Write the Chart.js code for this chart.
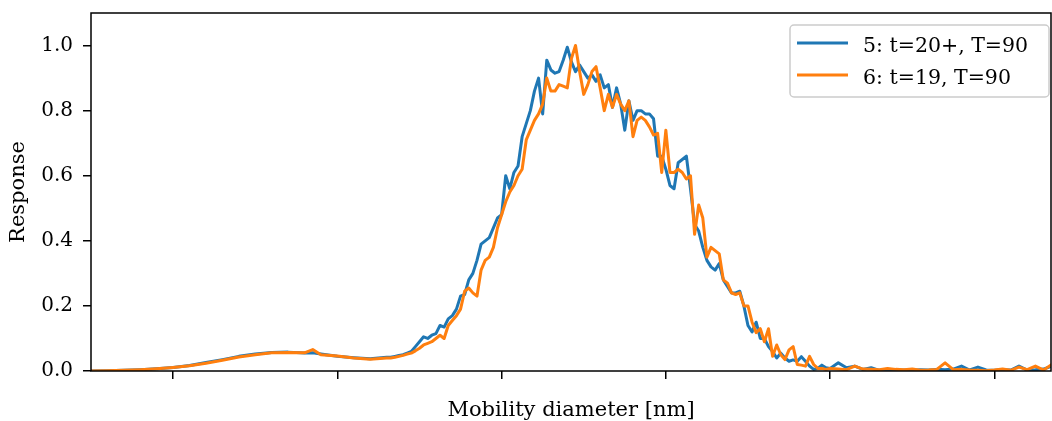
<!DOCTYPE html>
<html><head><meta charset="utf-8">
<script src="https://cdn.jsdelivr.net/npm/chart.js@4"></script>
<style>html,body{margin:0;padding:0;background:#fff;overflow:hidden}canvas{display:block}</style>
</head><body>
<canvas id="c" width="1052" height="421"></canvas>
<script>
// x positions (channel units along the mobility-diameter axis)
const xGrid = [0,4,8,12,16,20,24,28,32,36,40,44,48,52,54,56,60,64,68,72,
  73,74,75,76,77,78,79,80,81,82,83,84,85,86,87,88,89,90,91,92,93,94,95,96,97,98,99,
  100,101,102,103,104,105,106,107,108,109,110,111,112,113,114,115,116,117,118,119,
  120,121,122,123,124,125,126,127,128,129,130,131,132,133,134,135,136,137,138,139,
  140,141,142,143,144,145,146,147,148,149,150,151,152,153,154,155,156,157,158,159,
  160,161,162,163,164,165,166,167,168,169,170,171,172,173,174,175,176,177,178,179,180,
  182,184,186,188,190,192,194,196,198,200,202,204,206,208,210,212,214,216,218,220,
  222,224,226,228,230,232,234];

const series5 = [0.000,0.001,0.002,0.004,0.007,0.011,0.017,0.026,0.035,0.045,0.052,0.057,0.058,0.055,0.056,0.052,0.045,0.041,0.038,0.042,
  0.042,0.045,0.048,0.050,0.055,0.060,0.075,0.090,0.105,0.100,0.110,0.115,0.140,0.135,0.160,0.170,0.190,0.230,0.235,0.280,0.300,0.340,0.390,0.400,0.410,0.440,0.470,
  0.480,0.600,0.560,0.610,0.630,0.720,0.760,0.800,0.860,0.900,0.790,0.955,0.925,0.915,0.920,0.955,0.995,0.950,0.920,0.940,
  0.920,0.900,0.910,0.890,0.910,0.870,0.880,0.810,0.870,0.820,0.740,0.830,0.770,0.800,0.800,0.790,0.790,0.775,0.660,0.660,
  0.620,0.570,0.560,0.640,0.650,0.660,0.560,0.450,0.430,0.380,0.340,0.320,0.310,0.330,0.280,0.260,0.240,0.240,0.245,0.200,
  0.140,0.120,0.150,0.100,0.100,0.075,0.060,0.040,0.055,0.040,0.030,0.034,0.030,0.044,0.030,0.015,0.005,0.008,0.018,0.010,0.008,
  0.025,0.010,0.015,0.005,0.010,0.002,0.003,0.002,0.003,0.002,0.004,0.003,0.005,0.004,0.006,0.015,0.003,0.012,0.003,0.002,
  0.004,0.003,0.015,0.003,0.004,0.006,0.015];

const series6 = [0.000,0.001,0.002,0.004,0.007,0.011,0.016,0.024,0.033,0.043,0.050,0.056,0.057,0.056,0.066,0.050,0.046,0.040,0.036,0.040,
  0.040,0.042,0.045,0.048,0.052,0.055,0.062,0.070,0.080,0.085,0.090,0.100,0.110,0.100,0.140,0.155,0.170,0.190,0.245,0.255,0.240,0.230,0.310,0.340,0.350,0.380,0.440,
  0.480,0.520,0.550,0.570,0.600,0.620,0.710,0.740,0.770,0.790,0.820,0.900,0.860,0.860,0.880,0.875,0.870,0.960,1.000,0.920,
  0.850,0.880,0.920,0.935,0.870,0.800,0.850,0.810,0.850,0.820,0.800,0.830,0.720,0.770,0.780,0.770,0.750,0.725,0.730,0.610,
  0.740,0.610,0.610,0.620,0.610,0.590,0.600,0.420,0.510,0.470,0.350,0.380,0.370,0.360,0.280,0.270,0.240,0.235,0.240,0.200,
  0.200,0.150,0.118,0.130,0.090,0.130,0.045,0.080,0.050,0.035,0.065,0.075,0.020,0.018,0.015,0.045,0.020,0.008,0.008,0.005,0.008,
  0.006,0.004,0.015,0.006,0.005,0.004,0.008,0.005,0.004,0.006,0.002,0.003,0.005,0.025,0.004,0.005,0.003,0.002,0.001,0.003,
  0.006,0.002,0.012,0.004,0.015,0.003,0.020];

const seriesLabels = ['5: t=20+, T=90', '6: t=19, T=90'];
const xTicks = [20, 60, 100, 140, 180, 220];
const yTicks = [0, 0.2, 0.4, 0.6, 0.8, 1.0];
const xTitle = 'Mobility diameter [nm]';
const yTitle = 'Response';

const FONT = '"DejaVu Serif", serif';
const BLUE = '#1f77b4', ORANGE = '#ff7f0e';

const toPts = arr => xGrid.map((x, i) => ({x: x, y: arr[i]}));

const framePlugin = {
  id: 'frame',
  afterDatasetsDraw(chart) {
    const {ctx, chartArea: a} = chart;
    ctx.save();
    ctx.strokeStyle = '#000';
    ctx.lineWidth = 1.5;
    ctx.strokeRect(a.left, a.top, a.right - a.left, a.bottom - a.top);
    ctx.restore();
  }
};

const boxLegend = {
  id: 'boxLegend',
  afterDraw(chart) {
    const {ctx, chartArea: a} = chart;
    const w = 259, h = 72;
    const left = a.right - 2 - w, top = a.top + 12;
    ctx.save();
    ctx.beginPath();
    ctx.roundRect(left, top, w, h, 4);
    ctx.fillStyle = 'rgba(255,255,255,0.85)';
    ctx.fill();
    ctx.strokeStyle = '#cccccc';
    ctx.lineWidth = 1.5;
    ctx.stroke();
    chart.data.datasets.forEach((ds, i) => {
      const yl = top + 18 + i * 32;
      ctx.beginPath();
      ctx.moveTo(left + 7, yl);
      ctx.lineTo(left + 58, yl);
      ctx.strokeStyle = ds.borderColor;
      ctx.lineWidth = 3;
      ctx.stroke();
      ctx.fillStyle = '#000';
      ctx.font = '20.5px ' + FONT;
      ctx.textBaseline = 'alphabetic';
      ctx.textAlign = 'left';
      ctx.fillText(ds.label, left + 73, yl + 8.5);
    });
    ctx.restore();
  }
};

new Chart(document.getElementById('c'), {
  type: 'line',
  data: {
    datasets: [
      {label: seriesLabels[0], data: toPts(series5), borderColor: BLUE, borderWidth: 3, pointRadius: 0, tension: 0, fill: false, order: 1, borderJoinStyle: 'round', borderCapStyle: 'round'},
      {label: seriesLabels[1], data: toPts(series6), borderColor: ORANGE, borderWidth: 3, pointRadius: 0, tension: 0, fill: false, order: 0, borderJoinStyle: 'round', borderCapStyle: 'round'}
    ]
  },
  options: {
    responsive: false,
    animation: false,
    devicePixelRatio: 1,
    layout: {padding: {top: 13, right: 1, bottom: 0, left: 0}},
    plugins: {legend: {display: false}, tooltip: {enabled: false}},
    scales: {
      x: {
        type: 'linear', min: 0, max: 233.8,
        afterBuildTicks: s => { s.ticks = xTicks.map(v => ({value: v})); },
        afterFit: s => { s.height = 50; s.paddingLeft = 0; s.paddingRight = 0; },
        ticks: {callback: () => '', autoSkip: false, maxRotation: 0},
        grid: {display: true, drawOnChartArea: false, drawTicks: true, tickLength: 8, color: '#000', lineWidth: 1.5},
        border: {display: false},
        title: {display: true, text: xTitle, color: '#000', font: {family: FONT, size: 21, lineHeight: 1}, padding: {top: 0, bottom: 0}}
      },
      y: {
        type: 'linear', min: 0, max: 1.1,
        afterBuildTicks: s => { s.ticks = yTicks.map(v => ({value: v})); },
        afterFit: s => { s.width = 91; s.paddingTop = 0; s.paddingBottom = 0; },
        ticks: {callback: v => Number(v).toFixed(1), color: '#000', font: {family: FONT, size: 20}, padding: 10},
        grid: {display: true, drawOnChartArea: false, drawTicks: true, tickLength: 8, color: '#000', lineWidth: 1.5},
        border: {display: false},
        title: {display: true, text: yTitle, color: '#000', font: {family: FONT, size: 21, lineHeight: 1}, padding: {top: 8, bottom: 0}}
      }
    }
  },
  plugins: [framePlugin, boxLegend]
});
</script>
</body></html>
